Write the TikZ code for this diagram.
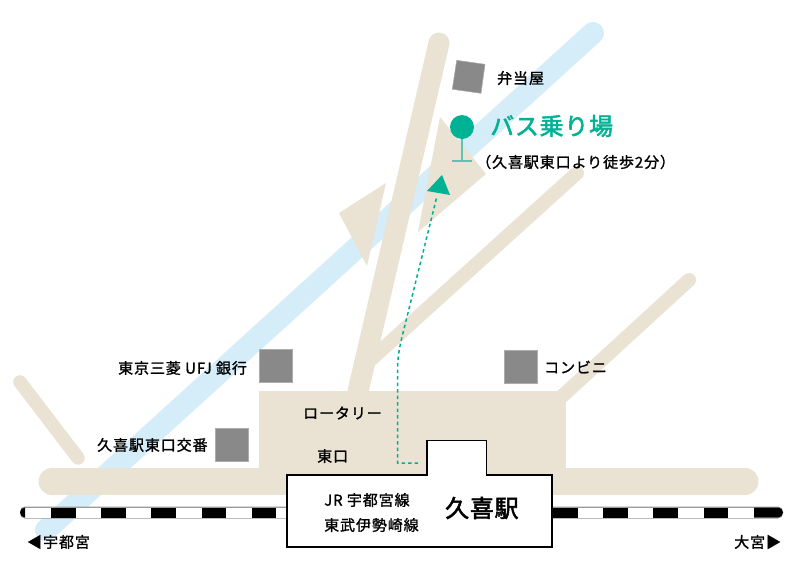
\documentclass[tikz,border=0pt]{standalone}
\usepackage{xcolor}
\usepackage{fontspec}
\newfontfamily\cjkb{Noto Sans CJK JP}[FakeBold=1.3,LetterSpace=6]
\newfontfamily\cjkc{Noto Sans CJK JP}[FakeBold=2.2,LetterSpace=3]
\definecolor{road}{HTML}{EAE3D3}
\definecolor{river}{HTML}{D5ECF9}
\definecolor{busgreen}{HTML}{00B294}
\definecolor{stem}{HTML}{5CC4B0}
\definecolor{shop}{HTML}{898989}
\tikzset{
  lbl/.style={inner sep=0,anchor=west,text=black,font=\cjkb\fontsize{15}{16}\selectfont},
  shopbox/.style={fill=shop,draw=shop!70,line width=.5pt},
  roadline/.style={draw=road,line cap=round}
}

\begin{document}
\begin{tikzpicture}[x=1pt,y=-1pt]
\useasboundingbox (0,0) rectangle (796,563);
\fill[white] (0,0) rectangle (796,563);

\draw[draw=river,line width=22pt,line cap=round] (593,33) -- (46,530);

\draw[roadline,line width=21pt] (439,43) -- (356,400);
\draw[roadline,line width=14pt] (577,173) -- (366,364);
\draw[roadline,line width=14pt] (689,280) -- (558,400);
\draw[roadline,line width=13.5pt] (20,382) -- (78,458);
\draw[roadline,line width=27pt] (52,481.5) -- (745,481.5);
\fill[road] (259,391) rectangle (566,481);
\fill[road] (440,117) -- (486,174) -- (418,232) -- cycle;
\fill[road] (386,183) -- (339,213) -- (367,266) -- cycle;

% railway
\fill[black!40,rounded corners=5pt] (20,506.5) rectangle (783,518.5);
\fill[white] (25,507.5) rectangle (778,517.5);
\fill[black] (25,507.5) arc (270:90:5) -- cycle;
\fill[black] (754,507.5) -- (778,507.5) arc (-90:90:5) -- (754,517.5) -- cycle;
\foreach \x in {0,...,13}
    \fill[black] (51+50.2*\x,507.5) rectangle (75.5+50.2*\x,517.5);

% shops
\fill[shopbox] (259.5,349.5) rectangle (292.5,382.5);
\fill[shopbox] (215.5,428.5) rectangle (248.5,461.5);
\fill[shopbox] (504,350.5) rectangle (537,383.5);
\fill[shopbox] (456.7,60.3) -- (485,64.3) -- (481,93.3) -- (452.3,89.3) -- cycle;

% station
\draw[line width=1.6pt,fill=white] (287,475) -- (427,475) -- (427,440.5) -- (486.5,440.5)
    -- (486.5,475) -- (552,475) -- (552,547) -- (287,547) -- cycle;

% route
\coordinate (routestart) at (418,463);
\coordinate (routetip) at (437,196);
\draw[busgreen,line width=1.5pt,dash pattern=on 3.5pt off 3pt]
    (routestart) -- (397.5,463) -- (397.5,372) .. controls (397.5,358) and (399,350) .. (402,337) -- (routetip);
\fill[busgreen] (442,175) -- (427,191) -- (450,195) -- cycle;

% bus stop
\draw[stem,line width=1.3pt] (462,127) -- (462,161);
\draw[stem,line width=1.3pt] (452,161) -- (472,161);
\fill[busgreen] (462,127) circle (12);

\node[lbl] (bento) at (497,78) {弁当屋};
\node[lbl,text=busgreen,font=\cjkc\fontsize{24}{26}\selectfont] (busstop) at (490,126) {バス乗り場};
\node[lbl] (walk) at (476,162) {（久喜駅東口より徒歩2分）};
\node[lbl] (bank) at (118,368) {東京三菱 UFJ 銀行};
\node[lbl] (koban) at (97,445) {久喜駅東口交番};
\node[lbl] (rotary) at (303,413) {ロータリー};
\node[lbl] (eastexit) at (317,456) {東口};
\node[lbl] (conbini) at (544,367) {コンビニ};
\node[lbl] (jrline) at (324,500) {JR 宇都宮線};
\node[lbl] (tobuline) at (324,525) {東武伊勢崎線};
\node[lbl,font=\cjkc\fontsize{24}{26}\selectfont] (kuki) at (445,508) {久喜駅};
\node[lbl] (utsunomiya) at (27,542) {◀宇都宮};
\node[lbl] (omiya) at (734,542) {大宮▶};

\end{tikzpicture}
\end{document}
